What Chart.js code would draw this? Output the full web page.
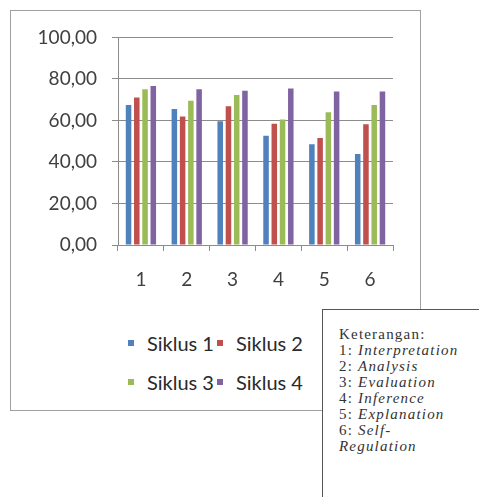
<!DOCTYPE html>
<html>
<head>
<meta charset="utf-8">
<script src="https://cdn.jsdelivr.net/npm/chart.js@4.4.0/dist/chart.umd.min.js"></script>
<style>
  body { margin: 0; background: #fff; width: 479px; height: 497px; overflow: hidden; position: relative; }
  #frame { position: absolute; left: 10px; top: 10px; width: 411px; height: 401px; box-sizing: border-box; border: 1px solid #a0a0a0; }
  #wrap { position: absolute; left: 0; top: 0; width: 409px; height: 290px; }
  #legend { position: absolute; left: 128px; top: 331px; font-family: Lato, sans-serif; font-size: 20px; color: #2a2a2a; }
  #legend .item { position: absolute; white-space: nowrap; line-height: 24px; }
  #legend .box { position: absolute; left: 0; top: 9px; width: 6px; height: 6px; }
  #legend .txt { position: absolute; left: 19px; top: 0; }
  #note { position: absolute; left: 322px; top: 309px; width: 200px; height: 220px; background: #fff; border: 1px solid #555;
          font-family: "Liberation Serif", "Times New Roman", serif; font-size: 15px; letter-spacing: 1.2px; color: #333;
          padding: 16px 0 0 16px; box-sizing: border-box; line-height: 16px; }
  #note i { font-style: italic; }
</style>
</head>
<body>
<div id="frame">
  <div id="wrap"><canvas id="bar-chart"></canvas></div>
</div>
<div id="legend"></div>
<div id="note">
  Keterangan:<br>
  1: <i>Interpretation</i><br>
  2: <i>Analysis</i><br>
  3: <i>Evaluation</i><br>
  4: <i>Inference</i><br>
  5: <i>Explanation</i><br>
  6: <i>Self-</i><br>
  <i>Regulation</i>
</div>
<script>
var categories = ['1', '2', '3', '4', '5', '6']
var siklus1 = [67.4, 65.5, 59.6, 52.6, 48.5, 43.8]
var siklus2 = [71.1, 61.9, 66.8, 58.4, 51.5, 58.2]
var siklus3 = [75.0, 69.5, 72.2, 60.5, 64.0, 67.4]
var siklus4 = [76.6, 75.0, 74.3, 75.4, 73.9, 73.9]
var seriesNames = ['Siklus 1', 'Siklus 2', 'Siklus 3', 'Siklus 4']
var yTickLabels = ['0,00', '20,00', '40,00', '60,00', '80,00', '100,00']

window.onload = function() {
    var colors = ['#4F81BD', '#C0504D', '#9BBB59', '#8064A2']
    var series = [siklus1, siklus2, siklus3, siklus4]
    var datasets = series.map(function(s, i) {
        return {
            label: seriesNames[i],
            data: s,
            backgroundColor: colors[i],
            categoryPercentage: 0.72,
            barPercentage: 0.67
        }
    })
    var tickFont = { family: 'Lato', size: 19 }
    var config = {
        type: 'bar',
        data: { labels: categories, datasets: datasets },
        options: {
            responsive: true,
            maintainAspectRatio: false,
            animation: false,
            layout: { padding: { left: 0, right: 27, top: 23, bottom: 0 } },
            plugins: { legend: { display: false }, tooltip: { enabled: false } },
            scales: {
                x: {
                    grid: { offset: true, drawOnChartArea: false, tickLength: 6, color: '#8c8c8c' },
                    border: { color: '#8c8c8c' },
                    ticks: { color: '#404040', font: tickFont, padding: 17 },
                    afterFit: function(scale) { scale.height = 56 }
                },
                y: {
                    min: 0,
                    max: 100,
                    ticks: {
                        stepSize: 20,
                        color: '#404040',
                        font: tickFont,
                        padding: 15,
                        callback: function(v) { return yTickLabels[Math.round(v / 20)] }
                    },
                    grid: { color: '#8c8c8c', tickLength: 6 },
                    border: { color: '#8c8c8c' },
                    afterFit: function(scale) { scale.width = 107 }
                }
            }
        }
    }
    var ctx = document.getElementById('bar-chart').getContext('2d')
    window.myBar = new Chart(ctx, config)

    // legend in two rows of two, like the original
    var legend = document.getElementById('legend')
    window.myBar.data.datasets.forEach(function(ds, i) {
        var item = document.createElement('div')
        item.className = 'item'
        item.style.left = (i % 2) * 89 + 'px'
        item.style.top = Math.floor(i / 2) * 39 + 'px'
        item.innerHTML = '<span class="box" style="background:' + ds.backgroundColor + '"></span><span class="txt">' + ds.label + '</span>'
        legend.appendChild(item)
    })
}
</script>
</body>
</html>
